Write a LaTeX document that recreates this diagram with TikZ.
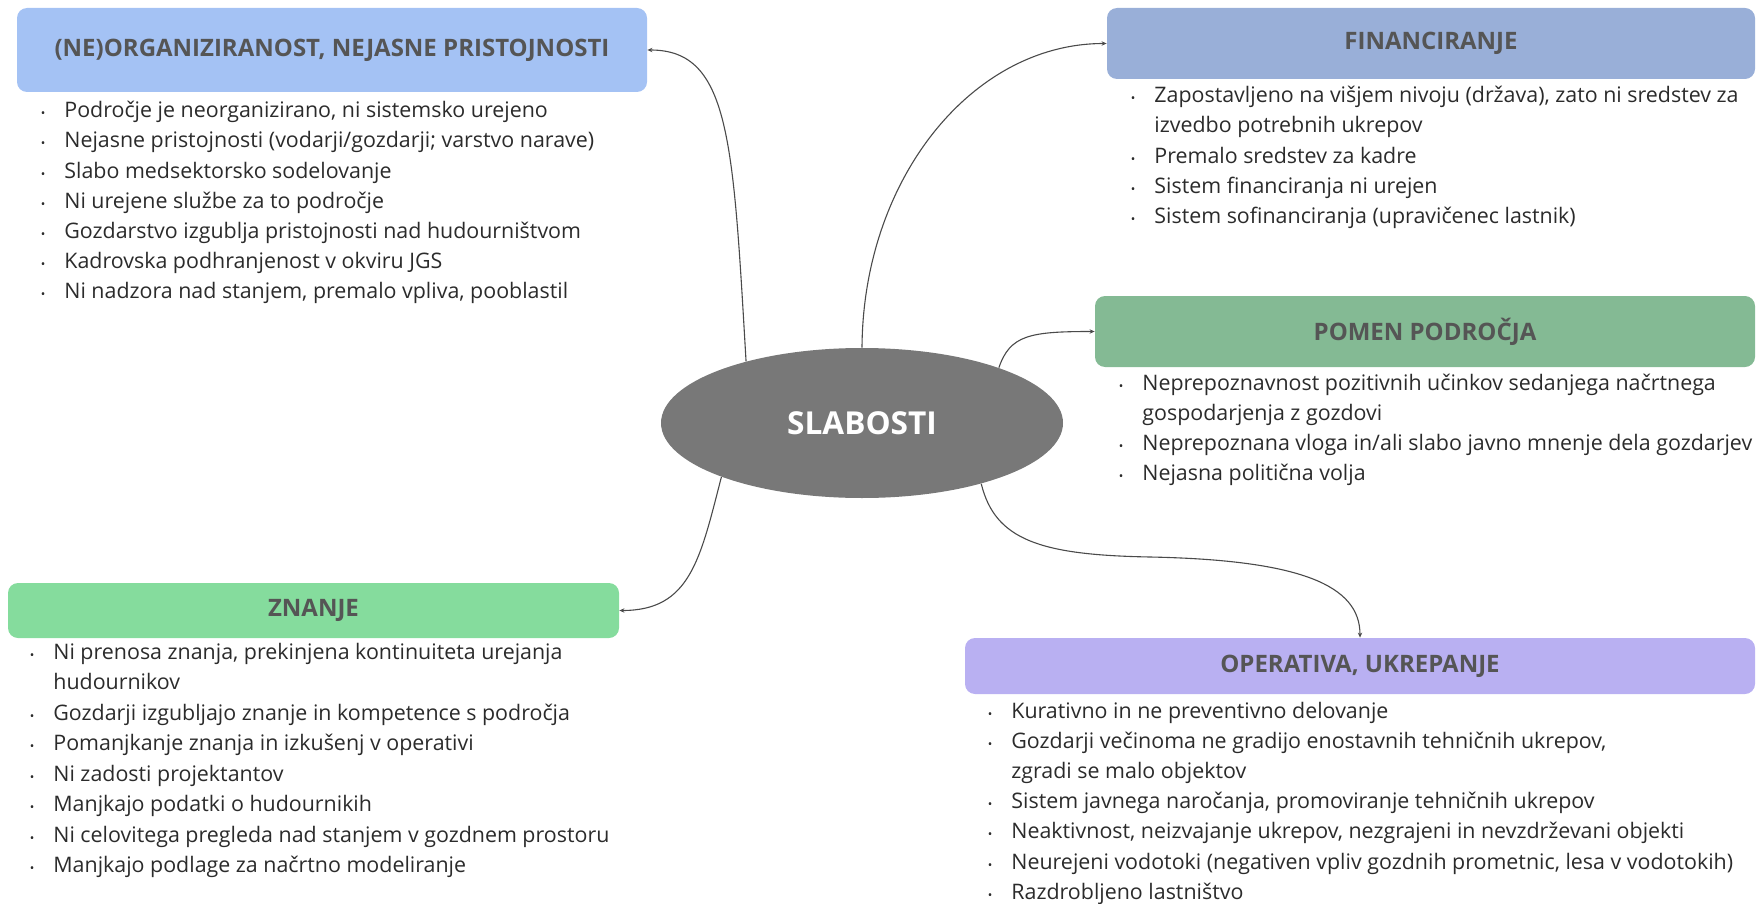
\documentclass[tikz,border=0pt]{standalone}
\usepackage{fontspec}
\setmainfont{Open Sans}
\usetikzlibrary{arrows.meta,shapes.geometric}
\definecolor{cOrg}{HTML}{A4C2F4}
\definecolor{cFin}{HTML}{99AFD8}
\definecolor{cPom}{HTML}{84BA94}
\definecolor{cZna}{HTML}{85DC9D}
\definecolor{cOpe}{HTML}{B9B0F2}
\definecolor{cEll}{HTML}{787878}
\definecolor{titlec}{HTML}{555555}
\definecolor{bodyc}{HTML}{2B2B2B}
\definecolor{linec}{HTML}{4A4A4A}
\tikzset{
  box/.style={draw=none, rounded corners=5pt, inner sep=0pt,
    font=\fontsize{12}{14}\selectfont\bfseries, text=titlec},
  item/.style={anchor=base west, inner sep=0pt,
    font=\fontsize{10.7}{13}\selectfont, text=bodyc},
  conn/.style={draw=linec, line width=0.55pt, -{Stealth[length=2.5pt,width=2.2pt]}},
}
\newcommand{\bul}{\llap{{\fontsize{6}{6}\selectfont •}\hspace{9.5pt}}}
\begin{document}
\begin{tikzpicture}[x=0.5pt,y=-0.5pt]
\useasboundingbox (0,0) rectangle (1756,904);
% central ellipse
\node[ellipse, fill=cEll, minimum width=201pt, minimum height=75pt, inner sep=0pt,
  text=white, font=\fontsize{15.8}{19}\selectfont\bfseries] (c) at (862,423) {SLABOSTI};
% boxes
\node[box, fill=cOrg, minimum width=315pt, minimum height=42pt] (b1) at (332,50) {(NE)ORGANIZIRANOST, NEJASNE PRISTOJNOSTI};
\node[box, fill=cFin, minimum width=324pt, minimum height=35.5pt] (b2) at (1431,43.5) {FINANCIRANJE};
\node[box, fill=cPom, minimum width=330pt, minimum height=35.5pt] (b3) at (1425,331.5) {POMEN PODROČJA};
\node[box, fill=cZna, minimum width=305.5pt, minimum height=27.5pt] (b4) at (313.5,610.5) {ZNANJE};
\node[box, fill=cOpe, minimum width=395pt, minimum height=28pt] (b5) at (1360,666) {OPERATIVA, UKREPANJE};
% list 1
\node[item] (a1) at (64,118) {\bul Področje je neorganizirano, ni sistemsko urejeno};
\node[item] (a2) at (64,148) {\bul Nejasne pristojnosti (vodarji/gozdarji; varstvo narave)};
\node[item] (a3) at (64,178) {\bul Slabo medsektorsko sodelovanje};
\node[item] (a4) at (64,208) {\bul Ni urejene službe za to področje};
\node[item] (a5) at (64,238) {\bul Gozdarstvo izgublja pristojnosti nad hudourništvom};
\node[item] (a6) at (64,268) {\bul Kadrovska podhranjenost v okviru JGS};
\node[item] (a7) at (64,298) {\bul Ni nadzora nad stanjem, premalo vpliva, pooblastil};
% list financiranje
\node[item] (f1) at (1154,103) {\bul Zapostavljeno na višjem nivoju (država), zato ni sredstev za};
\node[item] (f1b) at (1154,133) {izvedbo potrebnih ukrepov};
\node[item] (f2) at (1154,163) {\bul Premalo sredstev za kadre};
\node[item] (f3) at (1154,193) {\bul Sistem financiranja ni urejen};
\node[item] (f4) at (1154,223) {\bul Sistem sofinanciranja (upravičenec lastnik)};
% list pomen
\node[item] (p1) at (1142,390) {\bul Neprepoznavnost pozitivnih učinkov sedanjega načrtnega};
\node[item] (p1b) at (1142,420) {gospodarjenja z gozdovi};
\node[item] (p2) at (1142,450) {\bul Neprepoznana vloga in/ali slabo javno mnenje dela gozdarjev};
\node[item] (p3) at (1142,480) {\bul Nejasna politična volja};
% list znanje
\node[item] (z1) at (53,659) {\bul Ni prenosa znanja, prekinjena kontinuiteta urejanja};
\node[item] (z1b) at (53,689.5) {hudournikov};
\node[item] (z2) at (53,720) {\bul Gozdarji izgubljajo znanje in kompetence s področja};
\node[item] (z3) at (53,750.5) {\bul Pomanjkanje znanja in izkušenj v operativi};
\node[item] (z4) at (53,781) {\bul Ni zadosti projektantov};
\node[item] (z5) at (53,811.5) {\bul Manjkajo podatki o hudournikih};
\node[item] (z6) at (53,842) {\bul Ni celovitega pregleda nad stanjem v gozdnem prostoru};
\node[item] (z7) at (53,872.5) {\bul Manjkajo podlage za načrtno modeliranje};
% list operativa
\node[item] (o1) at (1011,718) {\bul Kurativno in ne preventivno delovanje};
\node[item] (o2) at (1011,748) {\bul Gozdarji večinoma ne gradijo enostavnih tehničnih ukrepov,};
\node[item] (o2b) at (1011,778) {zgradi se malo objektov};
\node[item] (o3) at (1011,808) {\bul Sistem javnega naročanja, promoviranje tehničnih ukrepov};
\node[item] (o4) at (1011,838) {\bul Neaktivnost, neizvajanje ukrepov, nezgrajeni in nevzdrževani objekti};
\node[item] (o5) at (1011,869) {\bul Neurejeni vodotoki (negativen vpliv gozdnih prometnic, lesa v vodotokih)};
\node[item] (o6) at (1011,899) {\bul Razdrobljeno lastništvo};
% connectors
\draw[conn] (c.152) .. controls (733,140) and (730,50) .. (b1.east);
\draw[conn] (c.north) .. controls (863,179) and (972,43.5) .. (b2.west);
\draw[conn] (c.22) .. controls (1010,335) and (1030,331.5) .. (b3.west);
\draw[conn] (c.-27) .. controls (995,540) and (1040,555) .. (1150,557)
  .. controls (1300,560) and (1360,585) .. (b5.north);
\draw[conn] (c.201.6) .. controls (700,560) and (690,610.5) .. (b4.east);
\end{tikzpicture}
\end{document}
